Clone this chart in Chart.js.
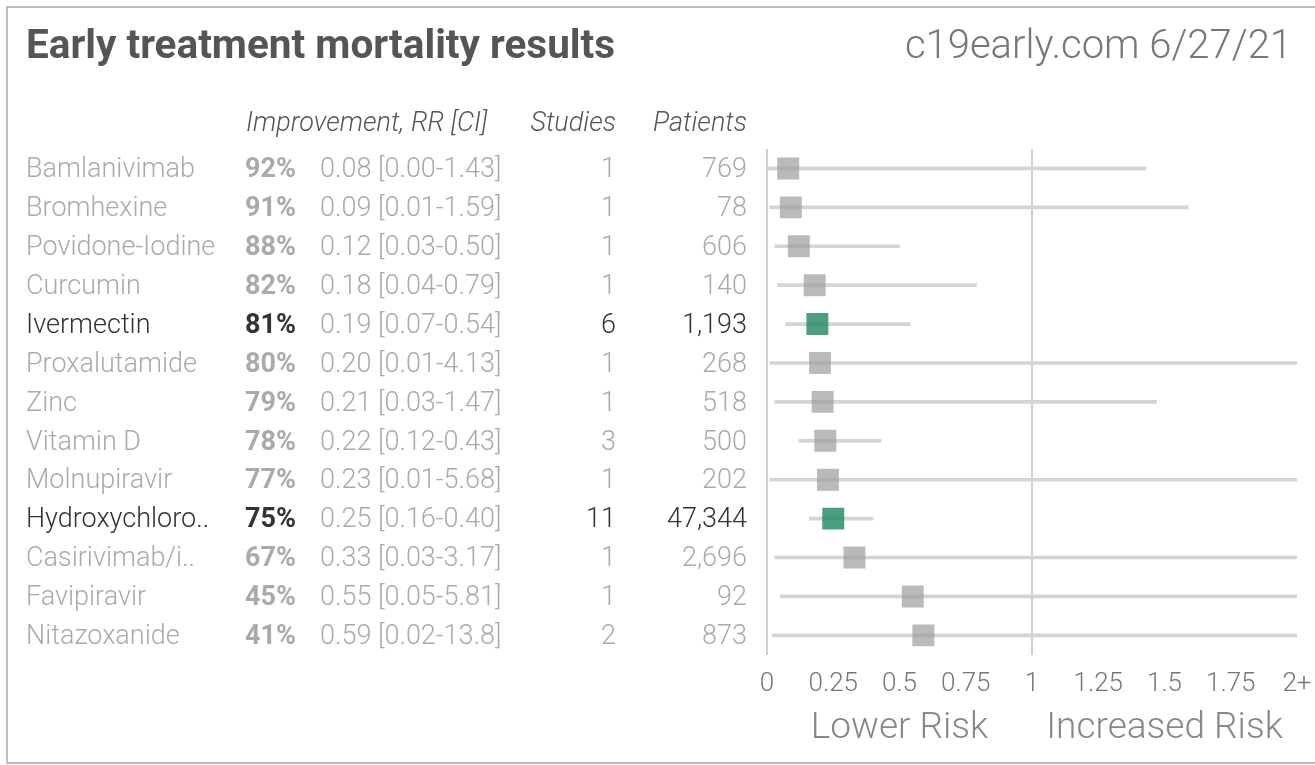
<!DOCTYPE html>
<html>
<head>
<meta charset="utf-8">
<script src="https://cdn.jsdelivr.net/npm/chart.js@4"></script>
<style>
  body { margin: 0; background: #fff; }
  #wrap { position: relative; width: 1315px; height: 765px; overflow: hidden; }
  #frame { position: absolute; left: 6px; top: 6px; width: 1400px; height: 754px; border: 2px solid #bdbdbd; }
  canvas { position: absolute; left: 0; top: 0; }
</style>
</head>
<body>
<div id="wrap">
  <div id="frame"></div>
  <canvas id="MyChart" width="1315" height="765"></canvas>
</div>
<script>
// values
const names = ['Bamlanivimab', 'Bromhexine', 'Povidone-Iodine', 'Curcumin', 'Ivermectin', 'Proxalutamide', 'Zinc',
  'Vitamin D', 'Molnupiravir', 'Hydroxychloro..', 'Casirivimab/i..', 'Favipiravir', 'Nitazoxanide'];
const improvement = ['92%', '91%', '88%', '82%', '81%', '80%', '79%', '78%', '77%', '75%', '67%', '45%', '41%'];
const rr = [0.08, 0.09, 0.12, 0.18, 0.19, 0.20, 0.21, 0.22, 0.23, 0.25, 0.33, 0.55, 0.59];
const ciLow = [0.00, 0.01, 0.03, 0.04, 0.07, 0.01, 0.03, 0.12, 0.01, 0.16, 0.03, 0.05, 0.02];
const ciHigh = [1.43, 1.59, 0.50, 0.79, 0.54, 4.13, 1.47, 0.43, 5.68, 0.40, 3.17, 5.81, 13.8];
const ciText = ['0.08 [0.00-1.43]', '0.09 [0.01-1.59]', '0.12 [0.03-0.50]', '0.18 [0.04-0.79]', '0.19 [0.07-0.54]',
  '0.20 [0.01-4.13]', '0.21 [0.03-1.47]', '0.22 [0.12-0.43]', '0.23 [0.01-5.68]', '0.25 [0.16-0.40]',
  '0.33 [0.03-3.17]', '0.55 [0.05-5.81]', '0.59 [0.02-13.8]'];
const studies = ['1', '1', '1', '1', '6', '1', '1', '3', '1', '11', '1', '1', '2'];
const patients = ['769', '78', '606', '140', '1,193', '268', '518', '500', '202', '47,344', '2,696', '92', '873'];
const highlight = [false, false, false, false, true, false, false, false, false, true, false, false, false];

const GREY = '#aaaaaa';
const DARK = '#333333';

const tablePlugin = {
    id: 'table',
    afterDraw(chart) {
        const c = chart.ctx;
        const y = chart.scales.y;
        c.save();
        c.textBaseline = 'middle';

        // title
        c.fillStyle = '#555555';
        c.font = 'bold 40.5px Roboto';
        c.textAlign = 'left';
        c.fillText('Early treatment mortality results', 26, 48);
        c.fillStyle = '#777777';
        c.font = '300 40px Roboto';
        c.textAlign = 'right';
        c.fillText('c19early.com 6/27/21', 1292, 48);

        // headers
        c.fillStyle = '#555555';
        c.font = 'italic 300 27px Roboto';
        c.textAlign = 'left';
        c.fillText('Improvement, RR [CI]', 246, 124);
        c.textAlign = 'right';
        c.fillText('Studies', 616, 124);
        c.fillText('Patients', 747, 124);

        // rows
        names.forEach((n, i) => {
            const py = y.getPixelForValue(i) + 2;
            const col = highlight[i] ? DARK : GREY;
            c.fillStyle = col;
            c.font = '300 27px Roboto';
            c.textAlign = 'left';
            c.fillText(n, 26, py);
            c.font = 'bold 27px Roboto';
            c.textAlign = 'right';
            c.fillText(improvement[i], 296, py);
            c.fillStyle = GREY;
            c.font = '300 27px Roboto';
            c.textAlign = 'left';
            c.fillText(ciText[i], 320, py);
            c.fillStyle = col;
            c.textAlign = 'right';
            c.fillText(studies[i], 616, py);
            c.fillText(patients[i], 747, py);
        });

        // risk labels
        const x = chart.scales.x;
        c.fillStyle = '#888888';
        c.font = '300 37px Roboto';
        c.textAlign = 'center';
        c.fillText('Lower Risk', x.getPixelForValue(0.5), 729);
        c.fillText('Increased Risk', x.getPixelForValue(1.5), 729);
        c.restore();
    }
};

const ctx = document.getElementById('MyChart').getContext('2d');
let myChart = new Chart(ctx, {
    type: 'bar',
    data: {
        labels: names,
        datasets: [{
            type: 'scatter',
            label: 'RR',
            data: rr.map((v, i) => ({x: v, y: names[i]})),
            pointStyle: 'rect',
            pointRadius: 15.5,
            pointHoverRadius: 15.5,
            borderWidth: 0,
            backgroundColor: highlight.map(h => h ? 'rgba(30,135,95,0.8)' : 'rgba(160,160,160,0.72)'),
            order: 0
        }, {
            label: 'CI',
            data: ciLow.map((lo, i) => [lo, ciHigh[i]]),
            backgroundColor: '#d4d4d4',
            barThickness: 3,
            grouped: false,
            order: 1
        }]
    },
    options: {
        indexAxis: 'y',
        responsive: false,
        animation: false,
        events: [],
        layout: {
            padding: {left: 767, right: 18, top: 149, bottom: 51}
        },
        plugins: {
            legend: {display: false},
            tooltip: {enabled: false}
        },
        scales: {
            x: {
                type: 'linear',
                min: 0,
                max: 2,
                border: {display: false},
                grid: {
                    drawTicks: false,
                    lineWidth: 2,
                    color: c => (c.tick && (c.tick.value === 0 || c.tick.value === 1)) ? '#d0d0d0' : 'rgba(0,0,0,0)'
                },
                ticks: {
                    stepSize: 0.25,
                    padding: 14,
                    color: '#777777',
                    font: {family: 'Roboto', size: 26, weight: '300'},
                    maxRotation: 0,
                    autoSkip: false,
                    callback: v => v === 2 ? '2+' : String(v)
                },
                afterFit: s => { s.paddingRight = 0; s.paddingLeft = 0; }
            },
            y: {
                type: 'category',
                display: false,
                offset: true
            }
        }
    },
    plugins: [tablePlugin]
});
</script>
</body>
</html>
